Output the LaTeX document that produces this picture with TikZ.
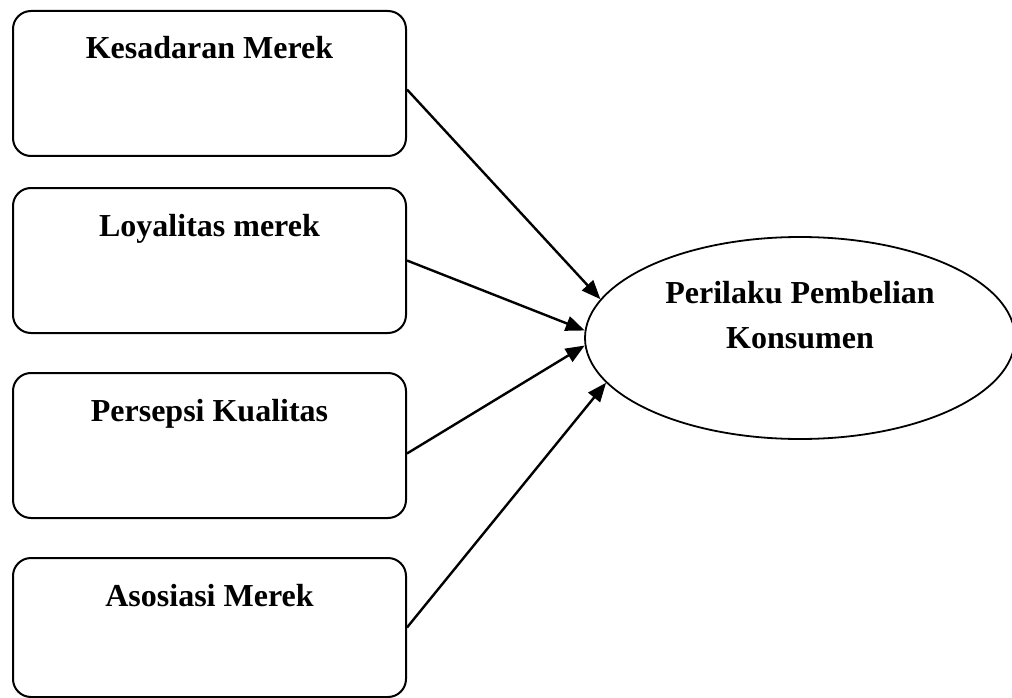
\documentclass[tikz,border=0pt]{standalone}
\usepackage{fontspec}
\setmainfont{Liberation Serif}
\usetikzlibrary{shapes.geometric, arrows.meta, positioning}

\tikzset{
	varbox/.style={draw, line width=2pt, rounded corners=18pt, anchor=north west,
		minimum width=393pt, inner xsep=0pt, inner ysep=0pt,
		text height=48pt, text depth=97pt, font=\bfseries\fontsize{32}{45}\selectfont},
	target/.style={draw, ellipse, line width=1.8pt, minimum width=430pt, minimum height=202pt, inner sep=0pt},
	conn/.style={line width=2.4pt, -{Triangle[length=19pt, width=15pt]}}
}

\begin{document}
\begin{tikzpicture}[x=1pt, y=-1pt]
	\useasboundingbox (0,0) rectangle (1012,698);
	
	\node[varbox] (KM) at (12,10) {Kesadaran Merek};
	\node[varbox] (LM) at (12,187) {Loyalitas merek};
	\node[varbox] (PK) at (12,372) {Persepsi Kualitas};
	\node[varbox, text depth=91pt] (AM) at (12,557) {Asosiasi Merek};
	
	\node[target] (PPK) at (800,338) {};
	\node[font=\bfseries\fontsize{32}{45}\selectfont, align=center] (PPKtext) at ([yshift=23pt]PPK.center) {Perilaku Pembelian\\Konsumen};
	
	%%%%%%%%%%%%%%%%%%%%%%%%%%%%%%
	
	\draw[conn] ([yshift=-6pt]KM.east) -- (PPK.169);
	\draw[conn] (LM.east) -- (PPK.178);
	\draw[conn] ([yshift=-8pt]PK.east) -- (PPK.182);
	\draw[conn] (AM.east) -- (PPK.193);
	
\end{tikzpicture}
\end{document}
